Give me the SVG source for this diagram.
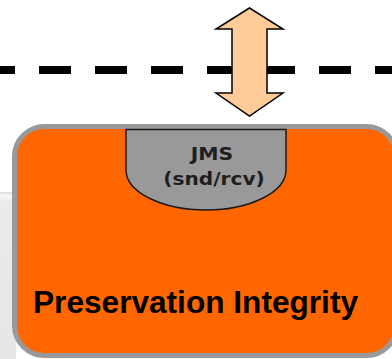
<svg xmlns="http://www.w3.org/2000/svg" width="392" height="359" viewBox="0 0 392 359">
  <defs>
    <linearGradient id="bgband" x1="0" y1="0" x2="0" y2="1">
      <stop offset="0" stop-color="#d8d8d8"/>
      <stop offset="0.02" stop-color="#f6f6f6"/>
      <stop offset="0.06" stop-color="#ebebeb"/>
      <stop offset="1" stop-color="#e6e6e6"/>
    </linearGradient>
  </defs>
  <style>
    .boundary { fill: none; stroke: #000; stroke-width: 8; stroke-dasharray: 32 24; stroke-dashoffset: 17; }
    .arrow { fill: #FFCC99; stroke: #000; stroke-width: 1.5; stroke-linejoin: miter; }
    .box { fill: #FF6600; stroke: #999999; stroke-width: 5; }
    .jms { fill: #999999; stroke: #1a1a1a; stroke-width: 1.5; }
    .jmstext { font-family: "DejaVu Sans", "Liberation Sans", sans-serif; font-weight: bold; font-size: 18.5px; fill: #1e1e1e; text-anchor: middle; }
    .title { font-family: "Liberation Sans", Arial, sans-serif; font-weight: bold; font-size: 31px; fill: #000; }
  </style>
  <rect x="0" y="192" width="16" height="167" fill="url(#bgband)"/>
  <g id="connectors">
    <line class="boundary" x1="0" y1="70" x2="392" y2="70"/>
    <polygon class="arrow" points="249.5,8 283,29 267,29 267,93 283,93 249.5,116 216,93 232,93 232,29 216,29"/>
  </g>
  <g id="preservation-integrity">
    <rect class="box" x="14.5" y="126.5" width="382" height="229" rx="30" ry="30"/>
    <text class="title" x="33" y="313" textLength="325" lengthAdjust="spacingAndGlyphs">Preservation Integrity</text>
  </g>
  <g id="jms">
    <path class="jms" d="M126,129.5 H286 V170 A80,40 0 0 1 126,170 Z"/>
    <text class="jmstext" x="212" y="160" textLength="42.5" lengthAdjust="spacingAndGlyphs">JMS</text>
    <text class="jmstext" x="214" y="185" textLength="101.5" lengthAdjust="spacingAndGlyphs">(snd/rcv)</text>
  </g>
</svg>
